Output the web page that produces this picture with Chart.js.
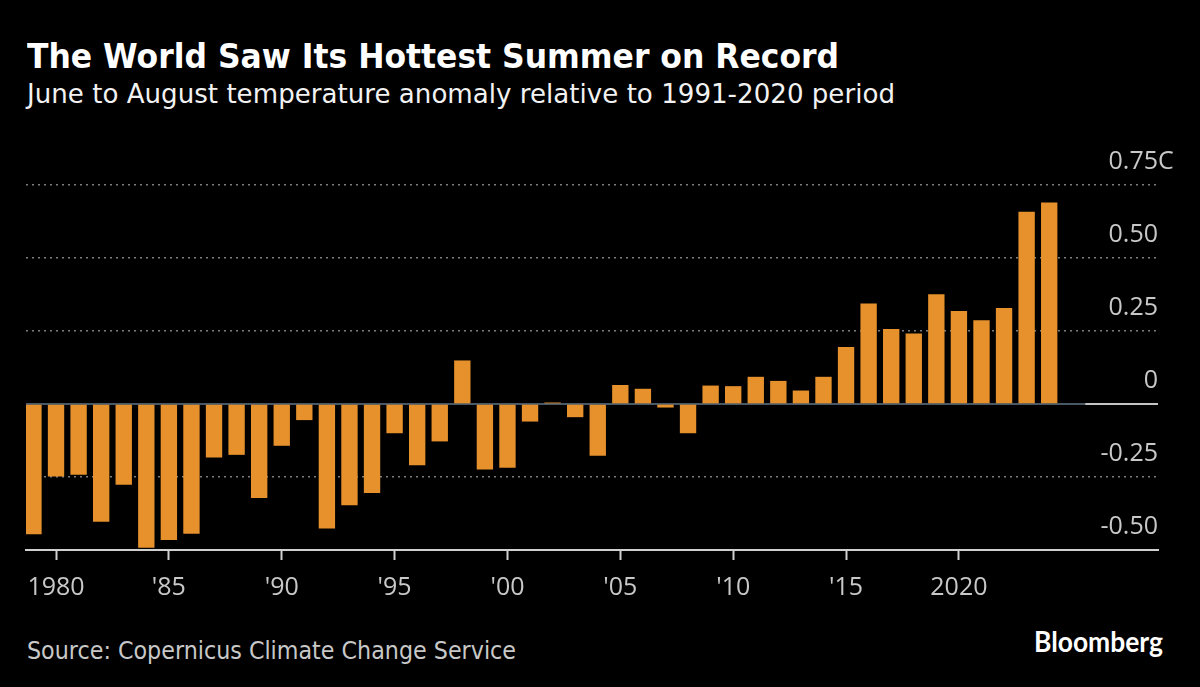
<!DOCTYPE html>
<html><head><meta charset="utf-8">
<script src="https://cdn.jsdelivr.net/npm/chart.js@4.4.1/dist/chart.umd.min.js"></script>
<style>
html,body{margin:0;padding:0;background:#000;width:1200px;height:687px;overflow:hidden;}
.t{position:absolute;white-space:nowrap;transform-origin:0 0;margin:0;}
#title{left:27px;top:39px;font:bold 34px/34px "DejaVu Sans";color:#fff;}
#sub{left:27px;top:80px;font:27px/27px "DejaVu Sans";color:#f2f2f2;}
#src{left:27px;top:638px;font:25px/25px "DejaVu Sans";color:#c8c8c8;}
#logo{left:1034px;top:627px;font:bold 28px/28px "Lato";color:#fff;}
#c{position:absolute;left:0;top:0;}
</style></head>
<body>
<div class="t" id="title" data-w="812">The World Saw Its Hottest Summer on Record</div>
<div class="t" id="sub" data-w="868">June to August temperature anomaly relative to 1991-2020 period</div>
<div class="t" id="src" data-w="489">Source: Copernicus Climate Change Service</div>
<div class="t" id="logo" data-w="129">Bloomberg</div>
<canvas id="c" width="1200" height="620"></canvas>
<script>
const years = [1979,1980,1981,1982,1983,1984,1985,1986,1987,1988,1989,1990,1991,1992,1993,1994,1995,1996,1997,1998,1999,2000,2001,2002,2003,2004,2005,2006,2007,2008,2009,2010,2011,2012,2013,2014,2015,2016,2017,2018,2019,2020,2021,2022,2023,2024];
const anomaly = [-0.445,-0.247,-0.241,-0.402,-0.275,-0.491,-0.465,-0.443,-0.182,-0.173,-0.321,-0.142,-0.054,-0.425,-0.346,-0.304,-0.099,-0.209,-0.127,0.148,-0.223,-0.217,-0.059,0.004,-0.044,-0.176,0.064,0.051,-0.011,-0.099,0.062,0.060,0.092,0.078,0.045,0.092,0.194,0.343,0.256,0.240,0.375,0.317,0.286,0.328,0.657,0.689];
const xTickYears = [1980,1985,1990,1995,2000,2005,2010,2015,2020];
const xTickLabels = ['1980',"'85","'90","'95","'00","'05","'10","'15",'2020'];
const yTickValues = [-0.5,-0.25,0,0.25,0.5,0.75];
const yTickLabels = ['-0.50','-0.25','0','0.25','0.50','0.75'];
const yUnit = 'C';

document.querySelectorAll('.t').forEach(el=>{
  const w = el.getBoundingClientRect().width;
  const target = +el.dataset.w;
  el.style.transform = 'scaleX(' + (target / w) + ')';
});

const BAR = '#e6912b';
const TICK = '#c8c8c8';

const yLabelsPlugin = {
  id:'yLabels',
  afterDraw(chart){
    const ctx = chart.ctx, ys = chart.scales.y, ca = chart.chartArea;
    ctx.save();
    ctx.font = '25px "Open Sans"';
    ctx.fillStyle = TICK;
    ctx.textBaseline = 'alphabetic';
    yTickValues.forEach((v,i)=>{
      const y = ys.getPixelForValue(v) - 16;
      ctx.textAlign = 'right';
      ctx.fillText(yTickLabels[i], ca.right, y);
      if (i === yTickValues.length - 1) {
        ctx.textAlign = 'left';
        ctx.fillText(yUnit, ca.right, y);
      }
    });
    ctx.restore();
  }
};

const zeroPlugin = {
  id:'zeroHi',
  afterDatasetsDraw(chart){
    const ctx = chart.ctx, xs = chart.scales.x, ys = chart.scales.y;
    const y = Math.round(ys.getPixelForValue(0));
    const x0 = xs.getPixelForValue(years[years.length-1] + 1.6);
    ctx.save();
    ctx.strokeStyle = '#c4c4c4';
    ctx.lineWidth = 2;
    ctx.beginPath(); ctx.moveTo(x0, y); ctx.lineTo(chart.chartArea.right, y); ctx.stroke();
    ctx.restore();
  }
};

new Chart(document.getElementById('c'), {
  type:'bar',
  data:{
    datasets:[{
      data: years.map((yr,i)=>({x:yr, y:anomaly[i]})),
      backgroundColor: BAR,
      borderWidth:0,
      barThickness:15.7
    }]
  },
  options:{
    responsive:false,
    animation:false,
    layout:{padding:{left:26,right:42,top:185,bottom:4}},
    plugins:{legend:{display:false},tooltip:{enabled:false}},
    scales:{
      x:{
        type:'linear', min:1978.67, max:2028.82, offset:false,
        afterBuildTicks: s => { s.ticks = xTickYears.map(v=>({value:v})); },
        ticks:{
          callback:(v)=> xTickLabels[xTickYears.indexOf(v)],
          color:TICK, font:{family:'Open Sans', size:25}, padding:13,
          maxRotation:0, autoSkip:false
        },
        grid:{offset:false, drawOnChartArea:false, drawTicks:true, tickLength:10, tickColor:'#d0d0d0', tickWidth:2},
        border:{display:true, color:'#d0d0d0', width:2}
      },
      y:{
        position:'left', min:-0.5, max:0.75,
        afterBuildTicks: s => { s.ticks = yTickValues.map(v=>({value:v})); },
        ticks:{display:false},
        grid:{
          drawTicks:false,
          color: c => c.tick.value === 0 ? '#4a5866' : (c.tick.value === -0.5 ? 'rgba(0,0,0,0)' : '#7d7d7d'),
          lineWidth: c => c.tick.value === 0 ? 2 : 1.5
        },
        border:{display:false, dash: c => c.tick && c.tick.value === 0 ? [] : [2,4]}
      }
    }
  },
  plugins:[yLabelsPlugin, zeroPlugin]
});
</script>
</body></html>
